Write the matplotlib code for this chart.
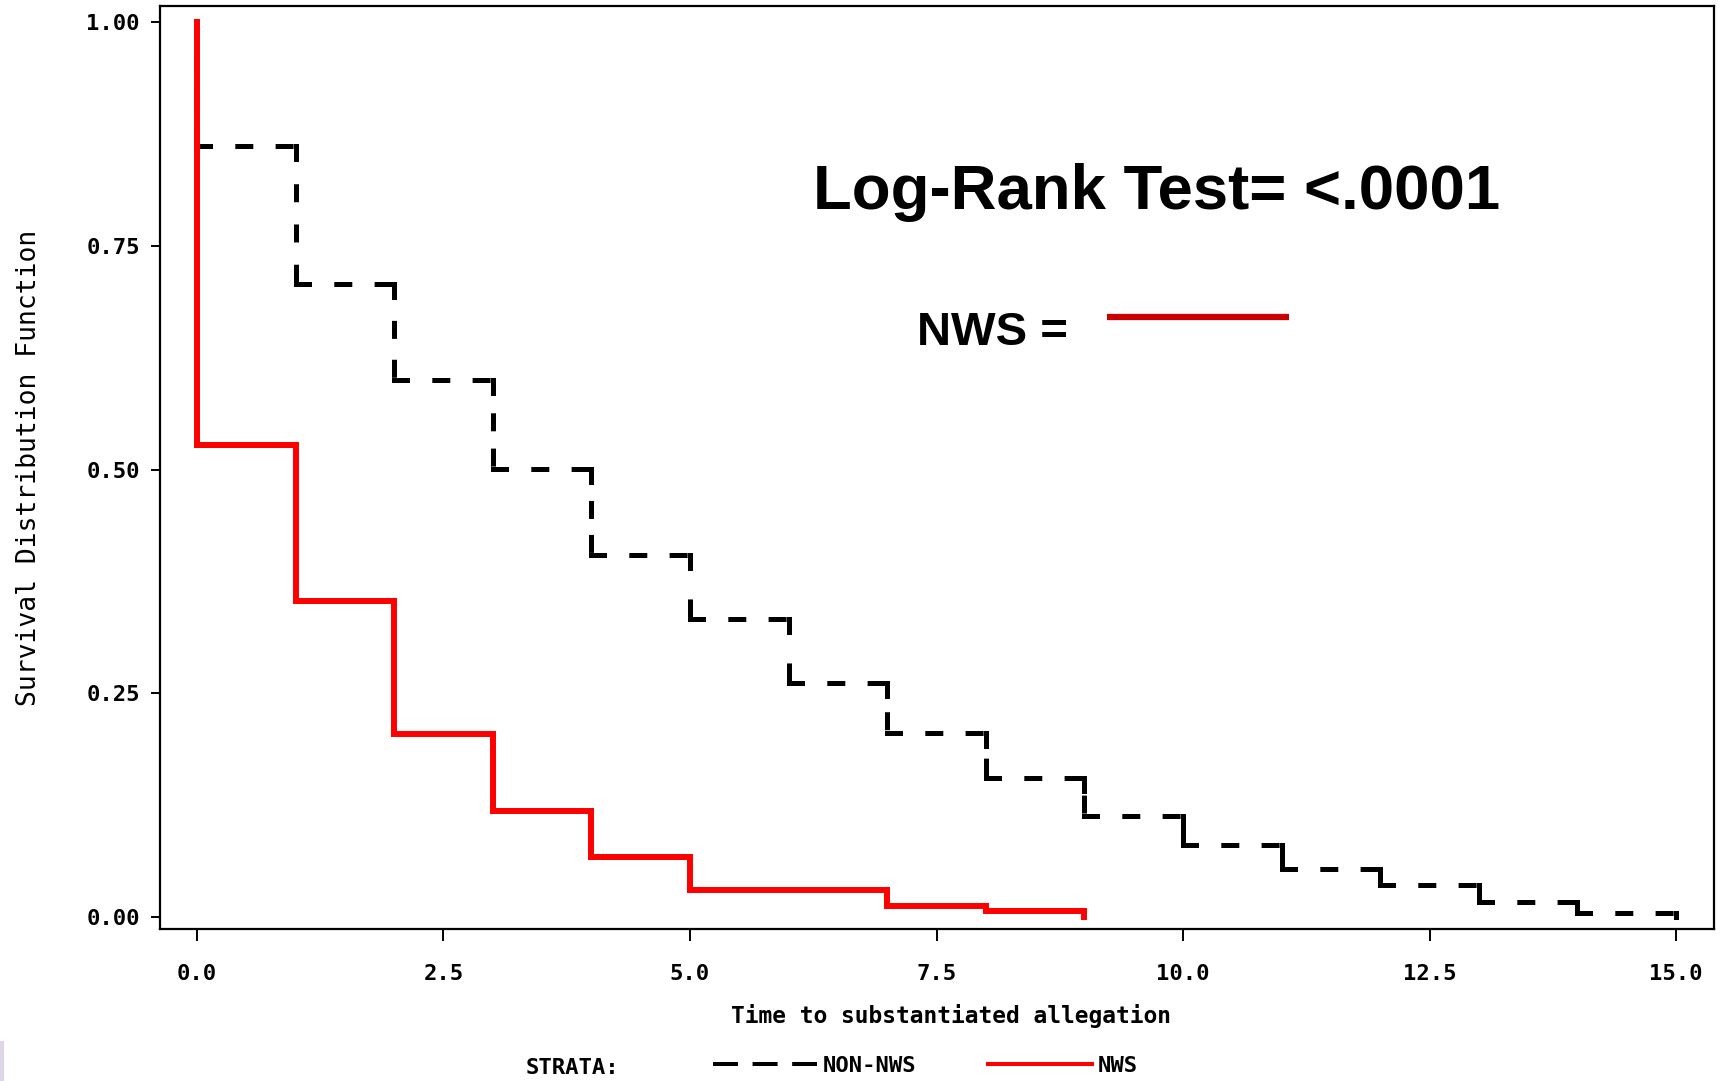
import numpy as np
import matplotlib
matplotlib.use("Agg")
import matplotlib.pyplot as plt
from matplotlib.lines import Line2D
from matplotlib.patches import Rectangle

# ---- data ----
non_nws_time = [0, 1, 2, 3, 4, 5, 6, 7, 8, 9, 10, 11, 12, 13, 14, 15]
non_nws_surv = [0.862, 0.707, 0.600, 0.501, 0.405, 0.333, 0.261, 0.206,
                0.155, 0.113, 0.081, 0.054, 0.036, 0.017, 0.004, 0.0]
nws_time = [0, 1, 2, 3, 4, 5, 7, 8, 9]
nws_surv = [0.527, 0.353, 0.204, 0.119, 0.067, 0.030, 0.012, 0.007, 0.0]

x_ticks = [0.0, 2.5, 5.0, 7.5, 10.0, 12.5, 15.0]
y_ticks = [0.00, 0.25, 0.50, 0.75, 1.00]

plt.rcParams['lines.scale_dashes'] = False
MONO = dict(family='DejaVu Sans Mono', weight='bold')

W, H = 1728, 1081
fig = plt.figure(figsize=(W / 100, H / 100), dpi=100)
ax = fig.add_axes([160 / W, (H - 929) / H, 1554 / W, 923 / H])
ax.set_xlim(-0.375, 15.385)
ax.set_ylim(-0.0134, 1.018)

# red NWS curve
ax.step([0] + nws_time, [1.0] + nws_surv, where='post', color='#ff0000',
        lw=4.3, solid_joinstyle='miter', zorder=3)

# black NON-NWS curve, each step segment dashed on its own (SAS style)
LW_PX = 5.0
DASH, GAP = 18.0, 20.0
pt = 72 / 100


def dashed_segment(x0, y0, x1, y1):
    p0 = ax.transData.transform((x0, y0))
    p1 = ax.transData.transform((x1, y1))
    L = float(np.hypot(*(p1 - p0)))
    n = max(1, int(round((L + GAP) / (DASH + GAP))))
    if n == 1:
        ls = '-'
    else:
        g = (L - n * DASH) / (n - 1)
        ls = (0, ((DASH - LW_PX) * pt, (g + LW_PX) * pt))
    ax.plot([x0, x1], [y0, y1], color='black', lw=LW_PX * pt, ls=ls,
            dash_capstyle='projecting', solid_capstyle='projecting', zorder=2)


xs = non_nws_time
ys = [1.0] + non_nws_surv
dashed_segment(0, ys[0], 0, ys[1])
for i in range(len(xs) - 1):
    dashed_segment(xs[i], ys[i + 1], xs[i + 1], ys[i + 1])
    dashed_segment(xs[i + 1], ys[i + 1], xs[i + 1], ys[i + 2])

# axes styling
for s in ax.spines.values():
    s.set_linewidth(1.6)
ax.set_xticks(x_ticks)
ax.set_xticklabels([f'{v:.1f}' for v in x_ticks], **MONO, fontsize=16)
ax.set_yticks(y_ticks)
ax.set_yticklabels([f'{v:.2f}' for v in y_ticks], **MONO, fontsize=16)
ax.tick_params(axis='x', direction='out', length=8.5, width=1.4, pad=17)
ax.tick_params(axis='y', direction='out', length=6.5, width=1.4, pad=8)

ax.set_xlabel('Time to substantiated allegation', **MONO, fontsize=16.5)
ax.xaxis.set_label_coords((951 - 160) / 1554, -(1004 - 929) / 923)
ax.set_ylabel('Survival Distribution Function', family='DejaVu Sans Mono',
              fontsize=19)
ax.yaxis.set_label_coords(-(160 - 42) / 1554, 0.5)

# annotations
fig.text(813 / W, 1 - 209 / H, 'Log-Rank Test= <.0001', family='Liberation Sans',
         weight='bold', fontsize=45.7, va='baseline', ha='left')
fig.text(917 / W, 1 - 345 / H, 'NWS =', family='Liberation Sans',
         weight='bold', fontsize=34, va='baseline', ha='left')
fig.add_artist(Line2D([1107 / W, 1289 / W], [1 - 317 / H, 1 - 317 / H],
                      color='#cc0000', lw=4.5, solid_capstyle='butt'))

# strata legend
fig.text(526 / W, 1 - 1068 / H, 'STRATA:', **MONO, fontsize=16,
         ha='left', va='center')
handles = [Line2D([], [], color='black', lw=2.9, ls=(0, (18, 10.5))),
           Line2D([], [], color='#ff0000', lw=2.9)]
fig.legend(handles, ['NON-NWS', 'NWS'], ncol=2, loc='center left',
           bbox_to_anchor=(713 / W, 1 - 1066 / H), frameon=False,
           prop=dict(**MONO, size=16), handlelength=4.7, handletextpad=0.25,
           columnspacing=3.2, borderpad=0, borderaxespad=0)

fig.add_artist(Rectangle((0, 0), 4 / W, 40 / H, transform=fig.transFigure,
                         color='#ddd5e8', lw=0))

fig.savefig('out.png', dpi=100)
